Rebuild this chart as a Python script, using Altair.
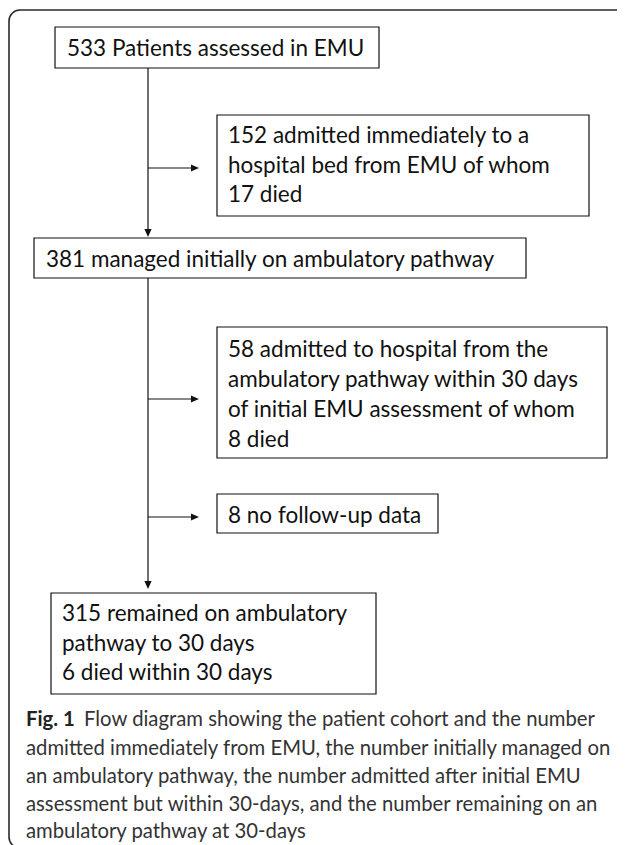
import altair as alt
import pandas as pd

# ---- diagram data (picture pixel coordinates) ----
box_x1 = [55, 217, 34, 217, 217, 51]
box_x2 = [379, 589, 526, 607, 438, 376]
box_y1 = [27, 115, 238, 327, 494, 593]
box_y2 = [68, 216, 278, 458, 533, 694]

box_text = [
    "533 Patients assessed in EMU",
    "152 admitted immediately to a",
    "hospital bed from EMU of whom",
    "17 died",
    "381 managed initially on ambulatory pathway",
    "58 admitted to hospital from the",
    "ambulatory pathway within 30 days",
    "of initial EMU assessment of whom",
    "8 died",
    "8 no follow-up data",
    "315 remained on ambulatory",
    "pathway to 30 days",
    "6 died within 30 days",
]
text_x = [67, 228, 228, 228, 46, 228, 228, 228, 228, 228, 62, 62, 62]
text_y = [56, 143, 173, 202, 267, 357, 387, 417, 447, 523, 621, 651, 680]

rule_x1 = [148, 148, 148, 148, 148]
rule_x2 = [148, 195, 148, 195, 195]
rule_y1 = [68, 168, 278, 399, 517]
rule_y2 = [232, 168, 584, 399, 517]

tip_x = [148, 199, 148, 199, 199]
tip_y = [237, 168, 589, 399, 517]
tip_dir = ["down", "right", "down", "right", "right"]

cap_bold = ["Fig. 1"]
cap_lines = [
    "Flow diagram showing the patient cohort and the number",
    "admitted immediately from EMU, the number initially managed on",
    "an ambulatory pathway, the number admitted after initial EMU",
    "assessment but within 30-days, and the number remaining on an",
    "ambulatory pathway at 30-days",
]
cap_x = [84, 26, 26, 26, 26]
cap_y = [726, 755, 783, 811, 838]

frame_x1, frame_x2 = [9], [1200]
frame_y1, frame_y2 = [10], [848]

# ---- scales ----
W, H = 609, 837
xs = alt.Scale(domain=[8, 8 + W])
ys = alt.Scale(domain=[8, 8 + H], reverse=True)

boxes = pd.DataFrame({"x1": box_x1, "x2": box_x2, "y1": box_y1, "y2": box_y2})
texts = pd.DataFrame({"t": box_text, "x": text_x, "y": text_y})
rules = pd.DataFrame({"x1": rule_x1, "x2": rule_x2, "y1": rule_y1, "y2": rule_y2})
tips = pd.DataFrame({"x": tip_x, "y": tip_y, "d": tip_dir})
caps = pd.DataFrame({"t": cap_lines, "x": cap_x, "y": cap_y})
capb = pd.DataFrame({"t": cap_bold, "x": [26], "y": [726]})
frame = pd.DataFrame({"x1": frame_x1, "x2": frame_x2, "y1": frame_y1, "y2": frame_y2})

X = lambda f: alt.X(f, type="quantitative", scale=xs, axis=None)
Y = lambda f: alt.Y(f, type="quantitative", scale=ys, axis=None)

frame_l = alt.Chart(frame).mark_rect(
    fill=None, stroke="#2a2a2a", strokeWidth=1.6, cornerRadius=11, clip=True
).encode(x=X("x1"), x2="x2", y=Y("y1"), y2="y2")

box_l = alt.Chart(boxes).mark_rect(
    fill="white", stroke="#111111", strokeWidth=1.2
).encode(x=X("x1"), x2="x2", y=Y("y1"), y2="y2")

text_l = alt.Chart(texts).mark_text(
    align="left", baseline="alphabetic", font="Lato", fontSize=22.5, color="#111111"
).encode(x=X("x"), y=Y("y"), text="t")

rule_l = alt.Chart(rules).mark_rule(color="#111111", strokeWidth=1.2).encode(
    x=X("x1"), x2="x2", y=Y("y1"), y2="y2"
)

down_l = alt.Chart(tips).transform_filter(alt.datum.d == "down").mark_point(
    shape="M0,0L-0.45,-1L0.45,-1Z", size=256, filled=True, color="#111111", opacity=1
).encode(x=X("x"), y=Y("y"))

right_l = alt.Chart(tips).transform_filter(alt.datum.d == "right").mark_point(
    shape="M0,0L-1,-0.45L-1,0.45Z", size=256, filled=True, color="#111111", opacity=1
).encode(x=X("x"), y=Y("y"))

cap_l = alt.Chart(caps).mark_text(
    align="left", baseline="alphabetic", font="Lato", fontSize=20.3, color="#333333"
).encode(x=X("x"), y=Y("y"), text="t")

capb_l = alt.Chart(capb).mark_text(
    align="left", baseline="alphabetic", font="Lato", fontSize=20.3, fontWeight="bold",
    color="#222222"
).encode(x=X("x"), y=Y("y"), text="t")

chart = alt.layer(
    frame_l, box_l, rule_l, down_l, right_l, text_l, cap_l, capb_l
).properties(
    width=W, height=H, padding=0, autosize=alt.AutoSizeParams(type="none")
).configure_view(stroke=None)

chart.save("out.html", embed_options={"renderer": "svg", "actions": False})
